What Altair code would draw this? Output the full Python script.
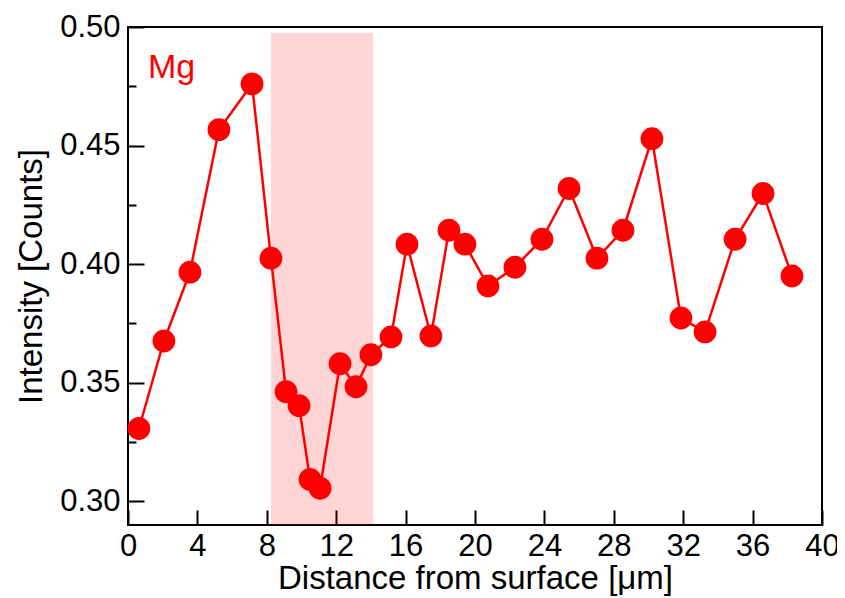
import altair as alt
import pandas as pd

# Data
distance = [0.63, 2.07, 3.57, 5.24, 7.15, 8.24, 9.11, 9.86, 10.49, 11.07,
            12.22, 13.14, 14.0, 15.16, 16.08, 17.46, 18.5, 19.42, 20.75, 22.3,
            23.86, 25.42, 27.03, 28.53, 30.2, 31.87, 33.26, 34.99, 36.6, 38.27]
intensity = [0.3307, 0.3676, 0.3966, 0.4567, 0.4760, 0.4025, 0.3462, 0.3403, 0.3092, 0.3055,
             0.3580, 0.3483, 0.3618, 0.3693, 0.4084, 0.3697, 0.4143, 0.4084, 0.3908, 0.3987,
             0.4105, 0.4319, 0.4025, 0.4143, 0.4529, 0.3773, 0.3714, 0.4105, 0.4298, 0.3950]

shade_start = [8.24]
shade_end = [14.12]
shade_top = [0.4975]
shade_bottom = [0.29]

x_tick_values = [0, 4, 8, 12, 16, 20, 24, 28, 32, 36, 40]
y_major_values = [0.30, 0.35, 0.40, 0.45, 0.50]
y_minor_values = [0.325, 0.375, 0.425, 0.475]

label_text = ["Mg"]
label_x = [1.15]
label_y = [0.4828]

FONT = "Liberation Sans"
RED = "#FF0000"

xscale = alt.Scale(domain=[0, 40], nice=False, zero=False)
yscale = alt.Scale(domain=[0.29, 0.50], nice=False, zero=False)

xax = alt.Axis(values=x_tick_values, format="d", title="Distance from surface [μm]",
               ticks=False, domain=False, grid=True, gridColor="black", gridWidth=2,
               gridOpacity=1, gridDash=[0, 483, 15, 2000],
               labelPadding=6,
               labelFontSize=31, titleFontSize=33, titlePadding=1,
               labelFont=FONT, titleFont=FONT, labelColor="black",
               titleColor="black", titleFontWeight="normal",
               labelOverlap=False, labelFlush=False)
# left axis pushed 16px inside the plot so that its outward ticks point inward
yax = alt.Axis(values=y_major_values, format=".2f", title="Intensity [Counts]", orient="left",
               offset=-16, ticks=True, tickSize=16, tickWidth=2, tickColor="black",
               domain=False, grid=False,
               labelPadding=8,
               labelFontSize=31, titleFontSize=33, titlePadding=11,
               labelFont=FONT, titleFont=FONT, labelColor="black",
               titleColor="black", titleFontWeight="normal",
               labelOverlap=False, labelFlush=False)
# right axis moved onto the left edge, its ticks point into the plot
yax_minor = alt.Axis(values=y_minor_values, title=None, orient="right", labels=False,
                     offset=-694, ticks=True, tickSize=8, tickWidth=2, tickColor="black",
                     domain=False, grid=False)

df = pd.DataFrame({"x": distance, "y": intensity})
shade = pd.DataFrame({"x": shade_start, "x2": shade_end, "y": shade_bottom, "y2": shade_top})
lab = pd.DataFrame({"t": label_text, "x": label_x, "y": label_y})

X = alt.X("x:Q", scale=xscale, axis=xax)
Y = alt.Y("y:Q", scale=yscale, axis=yax)
Ym = alt.Y("y:Q", scale=yscale, axis=yax_minor)

rect = alt.Chart(shade).mark_rect(color=RED, opacity=0.165).encode(x=X, x2="x2:Q", y=Y, y2="y2:Q")

line = alt.Chart(df).mark_line(color=RED, strokeWidth=2.5).encode(x=X, y=Y)

pts = alt.Chart(df).mark_circle(color=RED, size=520, opacity=1).encode(x=X, y=Y)

txt = alt.Chart(lab).mark_text(color=RED, font=FONT, fontSize=34, align="left",
                               baseline="middle").encode(x=X, y=Ym, text="t:N")

chart = alt.layer(alt.layer(rect, line, pts), txt).resolve_axis(y="independent").properties(
    width=694, height=498,
    autosize=alt.AutoSizeParams(type="none"),
    padding={"left": 120, "top": 19, "right": 15, "bottom": 78},
    background="white",
).configure_view(stroke="black", strokeWidth=2)

chart.save("out.html", embed_options={"renderer": "svg", "actions": False})
